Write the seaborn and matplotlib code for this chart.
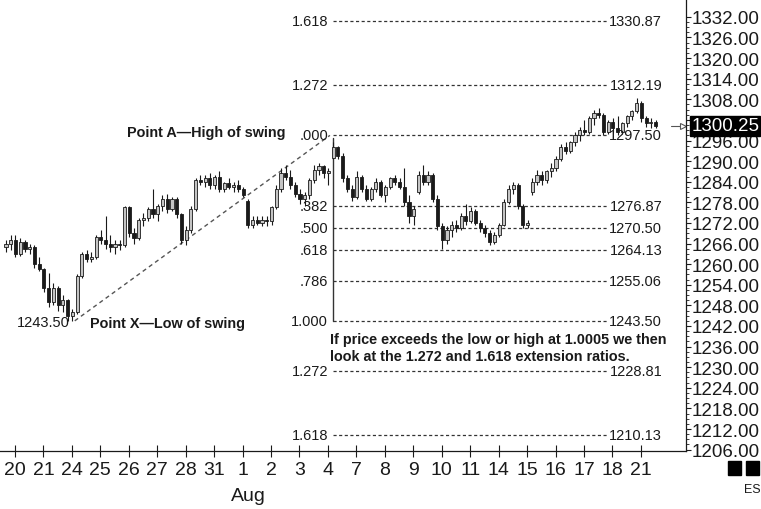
import numpy as np
import pandas as pd
import seaborn as sns
import matplotlib.pyplot as plt
from matplotlib.patches import Rectangle

# trading days on the x axis (6 bars per day)
day_labels = ["20", "21", "24", "25", "26", "27", "28", "31", "1", "2", "3", "4",
              "7", "8", "9", "10", "11", "14", "15", "16", "17", "18", "21"]
bars_per_day = 6

opens = [
    1265, 1266, 1267, 1263, 1266.5, 1264.5,
    1265, 1260, 1258.5, 1253, 1249, 1253,
    1248, 1249.5, 1245, 1246, 1256.5, 1263,
    1261.5, 1262, 1268, 1267, 1266, 1265,
    1266, 1265.5, 1276.5, 1269, 1267.5, 1273,
    1273.5, 1276, 1274.5, 1277, 1279, 1276,
    1279, 1274.5, 1267, 1270, 1276, 1284.5,
    1284, 1285, 1283, 1285.5, 1282, 1283.5,
    1282.5, 1283, 1282, 1278.5, 1271.5, 1273,
    1272, 1273, 1272.5, 1276.5, 1282, 1286.5,
    1285.5, 1283, 1280.5, 1279, 1280, 1284.5,
    1287.5, 1288.5, 1286.5, 1291, 1294, 1291.5,
    1285, 1282, 1279.5, 1285.5, 1282, 1279,
    1282, 1284, 1280, 1282.5, 1285, 1284,
    1282.5, 1278, 1274, 1281, 1286, 1284,
    1286, 1279, 1271, 1267, 1270, 1271.5,
    1270.5, 1274, 1272.5, 1275.5, 1272, 1270.5,
    1269, 1266.5, 1268.5, 1271.5, 1278, 1282,
    1283, 1277, 1271.5, 1281, 1284, 1286,
    1284.5, 1287, 1288, 1290.5, 1294, 1293,
    1295.5, 1297.5, 1299, 1298.5, 1302.5, 1304,
    1303.5, 1298.5, 1301.5, 1299.5, 1298.5, 1301,
    1303, 1304.5, 1307, 1302.5, 1301, 1301.5,
]
highs = [
    1267, 1268.5, 1268.5, 1267.5, 1267, 1266,
    1265.5, 1262, 1259, 1257.5, 1254.5, 1253.5,
    1251, 1250, 1247, 1257, 1263.5, 1264,
    1263.5, 1268.5, 1270, 1274, 1268.5, 1267,
    1267, 1277, 1277, 1270.5, 1273.5, 1275,
    1276.5, 1282, 1277.5, 1280, 1280.5, 1279.5,
    1279.5, 1275, 1271, 1277, 1285, 1286,
    1286, 1286.5, 1286, 1287, 1284, 1285,
    1284, 1284.5, 1282.5, 1279, 1274, 1274,
    1274, 1274, 1277, 1283, 1288, 1289,
    1287.5, 1284, 1282, 1281, 1285, 1289,
    1289.5, 1289, 1288, 1295.5, 1294.5, 1292.5,
    1286, 1283, 1287, 1286, 1283, 1282.5,
    1285, 1284.5, 1283, 1285.5, 1286, 1285,
    1288, 1280, 1277, 1287, 1289, 1287,
    1286.5, 1280, 1272, 1271, 1272.5, 1273,
    1275, 1277.5, 1276.5, 1276, 1273, 1271.5,
    1270, 1269.5, 1272, 1279, 1283, 1284,
    1283.5, 1277.5, 1273, 1285, 1287.5, 1287,
    1287.5, 1289.5, 1291.5, 1295, 1295.5, 1296,
    1298.5, 1300, 1302, 1303, 1305, 1305.5,
    1304, 1302, 1302.5, 1303, 1301.5, 1303.5,
    1305, 1308.5, 1307.5, 1303, 1302.5, 1302,
]
lows = [
    1263.5, 1264, 1262, 1262.5, 1263.5, 1263,
    1259, 1258, 1252, 1247.5, 1248, 1246.5,
    1246, 1243.5, 1243.5, 1245.5, 1256, 1260.5,
    1260.5, 1261.5, 1266, 1264.5, 1263.5, 1263,
    1264, 1265, 1268, 1266, 1267, 1271,
    1272.5, 1273.5, 1272.5, 1275.5, 1275, 1275.5,
    1273.5, 1266, 1265.5, 1269, 1275.5, 1283,
    1282.5, 1282, 1282, 1281, 1281, 1282,
    1281, 1281, 1279.5, 1270.5, 1270.5, 1271.5,
    1271, 1271, 1271.5, 1276, 1281, 1284.5,
    1282, 1279.5, 1277.5, 1277, 1279, 1283.5,
    1286, 1285, 1283, 1290.5, 1290.5, 1284,
    1281, 1278.5, 1279, 1281, 1278.5, 1278.5,
    1281, 1279.5, 1278, 1282, 1283, 1282,
    1277, 1272, 1271.5, 1280.5, 1283, 1283,
    1278, 1270, 1264.5, 1266, 1268, 1269.5,
    1270, 1271.5, 1272, 1271.5, 1269.5, 1268,
    1265.5, 1266, 1268, 1271, 1277.5, 1280.5,
    1276, 1270.5, 1270.5, 1280, 1283, 1283,
    1283.5, 1285.5, 1287, 1290, 1292, 1292.5,
    1294.5, 1296, 1297.5, 1298, 1300.5, 1302.5,
    1297.5, 1298, 1298.5, 1297.5, 1298, 1300,
    1302, 1304, 1301.5, 1300, 1299.5, 1299.5,
]
closes = [
    1266, 1267, 1263, 1266.5, 1264.5, 1265,
    1260, 1258.5, 1253, 1249, 1253, 1248,
    1249.5, 1245, 1246, 1256.5, 1263, 1261.5,
    1262, 1268, 1267, 1266, 1265, 1266,
    1265.5, 1276.5, 1269, 1267.5, 1273, 1273.5,
    1276, 1274.5, 1277, 1279, 1276, 1279,
    1274.5, 1267, 1270, 1276, 1284.5, 1284,
    1285, 1283, 1285.5, 1282, 1283.5, 1282.5,
    1283, 1282, 1280, 1271.5, 1273, 1272,
    1273, 1272.5, 1276.5, 1282, 1286.5, 1285.5,
    1283, 1280.5, 1279, 1280, 1284.5, 1287.5,
    1288.5, 1286.5, 1287, 1294, 1291.5, 1285,
    1282, 1279.5, 1285.5, 1282, 1279, 1282,
    1284, 1280, 1282.5, 1285, 1284, 1282.5,
    1278, 1274, 1276, 1286, 1284, 1286,
    1279, 1271, 1267, 1270, 1271.5, 1270.5,
    1274, 1272.5, 1275.5, 1272, 1270.5, 1269,
    1266.5, 1268.5, 1271.5, 1278, 1282, 1283,
    1277, 1271.5, 1272, 1284, 1286, 1284.5,
    1287, 1288, 1290.5, 1294, 1293, 1295.5,
    1297.5, 1299, 1298.5, 1302.5, 1304, 1303.5,
    1298.5, 1301.5, 1299.5, 1298.5, 1301, 1303,
    1304.5, 1307, 1302.5, 1301, 1301.5, 1300.25,
]

# fibonacci levels drawn on the chart
swing_low = 1243.50
swing_high = 1297.50
fib_labels = ["1.618", "1.272", ".000", ".382", ".500", ".618", ".786", "1.000", "1.272", "1.618"]
fib_prices = [1330.87, 1312.19, 1297.50, 1276.87, 1270.50, 1264.13, 1255.06, 1243.50, 1228.81, 1210.13]
last_price = 1300.25
price_ticks = np.arange(1206, 1333, 6)

n_days = len(day_labels)
df = pd.DataFrame({
    "day": np.repeat(np.arange(n_days), bars_per_day),
    "slot": np.tile(np.arange(bars_per_day), n_days),
    "open": opens, "high": highs, "low": lows, "close": closes,
})
df["x"] = df["day"] - 0.4 + (df["slot"] + 0.5) / bars_per_day
df["up"] = df["close"] >= df["open"]

sns.set_theme(style="white")
plt.rcParams["font.family"] = ["Liberation Sans", "DejaVu Sans"]
ink = "#1a1a1a"

fig = plt.figure(figsize=(7.61, 5.10), dpi=100)
ax = fig.add_axes([0.0, 58 / 510, 686 / 761, 452 / 510])

# candles
ax.vlines(df["x"], df["low"], df["high"], color=ink, lw=0.8, zorder=2)
body_lo = np.minimum(df["open"], df["close"])
body_h = np.maximum((df["close"] - df["open"]).abs(), 0.35)
ax.bar(df["x"], body_h, bottom=body_lo, width=0.11,
       color=np.where(df["up"], "#c4c4c4", ink), edgecolor=ink, linewidth=0.6, zorder=3)

# swing line X -> A
swing = pd.DataFrame({"x": [2.1, 11.07], "price": [swing_low, swing_high]})
sns.lineplot(data=swing, x="x", y="price", ax=ax, color="#555555", lw=1.0,
             linestyle=(0, (3, 2.5)), zorder=1)

# fib levels
x_left, x_right = 11.18, 20.82
for lab, p in zip(fib_labels, fib_prices):
    ax.plot([x_left, x_right], [p, p], color="#333333", lw=0.9, ls=(0, (2.5, 2)), zorder=1)
    ax.text(x_left - 0.17, p, lab, ha="right", va="center", fontsize=10.5, color=ink, zorder=4)
    ax.text(22.75, p, f"{p:.2f}", ha="right", va="center", fontsize=10.5, color=ink, zorder=4)
ax.plot([x_left, x_left], [swing_low, swing_high - 0.8], color="#333333", lw=1.0, zorder=1)

# annotations
ax.text(3.94, 1298.4, "Point A\u2014High of swing", fontsize=10.4, fontweight="bold",
        ha="left", va="center", color=ink)
ax.text(2.64, 1242.8, "Point X\u2014Low of swing", fontsize=10.4, fontweight="bold",
        ha="left", va="center", color=ink)
ax.text(0.07, 1243.1, "1243.50", fontsize=10.5, ha="left", va="center", color=ink)
ax.text(11.07, 1240.2,
        "If price exceeds the low or high at 1.0005 we then\nlook at the 1.272 and 1.618 extension ratios.",
        fontsize=10.4, fontweight="bold", ha="left", va="top", color=ink, linespacing=1.3)

# axes
ax.set_xlim(-0.527, 23.585)
ax.set_ylim(1205.6, 1337.2)
ax.set_xlabel("")
ax.set_ylabel("")
ax.set_xticks(np.arange(n_days))
ax.set_xticklabels(day_labels)
ax.yaxis.tick_right()
ax.set_yticks(price_ticks)
# the 1302 label sits under the last-price box
ax.set_yticklabels(["" if v == 1302 else f"{v:.2f}" for v in price_ticks])
ax.set_yticks(np.arange(1206, 1333, 1.5), minor=True)
ax.tick_params(axis="x", direction="inout", length=9, width=0.8, colors=ink,
               labelsize=14, pad=3, bottom=True)
ax.tick_params(axis="y", which="major", direction="out", length=3.5, width=0.8, colors=ink,
               labelsize=13.5, pad=0.5, right=True, left=False)
ax.tick_params(axis="y", which="minor", direction="out", length=2, width=0.6, colors=ink,
               right=True, left=False)
for side in ["left", "top"]:
    ax.spines[side].set_visible(False)
for side in ["right", "bottom"]:
    ax.spines[side].set_color(ink)
    ax.spines[side].set_linewidth(0.9)
ax.set_facecolor("white")

# last price marker and box
ytr = ax.get_yaxis_transform()
ax.plot([0.978, 0.994], [last_price, last_price], transform=ytr, color="#555555", lw=0.8, clip_on=False)
ax.plot([0.996], [last_price], transform=ytr, marker=">", ms=5, mfc="white", mec="#555555",
        mew=0.8, clip_on=False)
ax.text(1.0075, last_price, f"{last_price:.2f}", transform=ytr, ha="left", va="center", fontsize=13.5,
        color="white", zorder=5, bbox=dict(boxstyle="square,pad=0.06", fc="black", ec="black"))

# month label and symbol badge
fig.text(248 / 761, 1 - 497 / 510, "Aug", fontsize=14, ha="center", va="center", color=ink)
fig.add_artist(Rectangle((728 / 761, 1 - 476 / 510), 13 / 761, 14 / 510, transform=fig.transFigure,
                         color="black"))
fig.add_artist(Rectangle((746 / 761, 1 - 476 / 510), 13 / 761, 14 / 510, transform=fig.transFigure,
                         color="black"))
fig.text(752 / 761, 1 - 490 / 510, "ES", fontsize=9, ha="center", va="center", color=ink)

fig.savefig("out.png", dpi=100, facecolor="white")
